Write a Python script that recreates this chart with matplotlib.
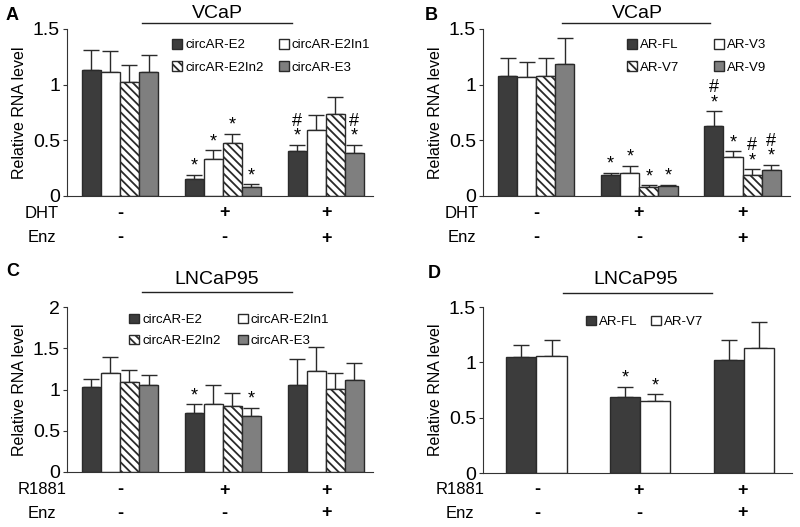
import numpy as np
import matplotlib
matplotlib.use('Agg')
import matplotlib.pyplot as plt

plt.rcParams['font.family'] = ['Liberation Sans', 'DejaVu Sans']
plt.rcParams['hatch.linewidth'] = 1.3

# ---- data ----
groups = [0, 1, 2]
circ_names = ['circAR-E2', 'circAR-E2In1', 'circAR-E2In2', 'circAR-E3']
ar4_names = ['AR-FL', 'AR-V3', 'AR-V7', 'AR-V9']
ar2_names = ['AR-FL', 'AR-V7']

# panel A (VCaP, circAR), rows = series, cols = groups
a_mean = [[1.13, 0.15, 0.40], [1.11, 0.33, 0.59], [1.02, 0.48, 0.74], [1.11, 0.085, 0.39]]
a_err = [[0.18, 0.04, 0.06], [0.19, 0.08, 0.14], [0.16, 0.08, 0.15], [0.16, 0.02, 0.07]]
a_marks = [['', '*', '#\n*'], ['', '*', ''], ['', '*', ''], ['', '*', '#\n*']]

# panel B (VCaP, AR variants)
b_mean = [[1.08, 0.19, 0.63], [1.07, 0.21, 0.35], [1.08, 0.085, 0.19], [1.19, 0.09, 0.23]]
b_err = [[0.16, 0.02, 0.13], [0.13, 0.06, 0.05], [0.16, 0.01, 0.05], [0.23, 0.01, 0.05]]
b_marks = [['', '*', '#\n*'], ['', '*', '*'], ['', '*', '#\n*'], ['', '*', '#\n*']]

# panel C (LNCaP95, circAR)
c_mean = [[1.03, 0.72, 1.06], [1.20, 0.83, 1.22], [1.09, 0.80, 1.01], [1.06, 0.68, 1.12]]
c_err = [[0.10, 0.10, 0.31], [0.20, 0.23, 0.30], [0.15, 0.16, 0.19], [0.12, 0.10, 0.20]]
c_marks = [['', '*', ''], ['', '', ''], ['', '', ''], ['', '*', '']]

# panel D (LNCaP95, AR-FL / AR-V7)
d_mean = [[1.05, 0.69, 1.02], [1.06, 0.65, 1.13]]
d_err = [[0.11, 0.09, 0.18], [0.14, 0.06, 0.23]]
d_marks = [['', '*', ''], ['', '*', '']]

treat1 = ['-', '+', '+']
treat2 = ['-', '-', '+']

# ---- styles ----
DARK = '#3c3c3c'
EDGE = '#2a2a2a'
styles4 = [dict(color=DARK, hatch=None), dict(color='white', hatch=None),
           dict(color='white', hatch='\\\\\\\\'), dict(color='#7f7f7f', hatch=None)]
styles2 = styles4[:2]

W, H = 800, 527
fig = plt.figure(figsize=(8, 5.27), dpi=100)


def px_axes(x0, x1, ytop, ybot):
    return fig.add_axes([x0 / W, 1 - ybot / H, (x1 - x0) / W, (ybot - ytop) / H])


def draw_panel(ax, means, errs, marks, names, styles, ymax, yticks, ylabels, gw):
    n = len(means)
    bw = gw / n
    x = np.array(groups, dtype=float)
    handles = []
    for i in range(n):
        xs = x - gw / 2 + bw * (i + 0.5)
        st = styles[i]
        b = ax.bar(xs, means[i], bw, color=st['color'], edgecolor=EDGE, linewidth=1.0,
                   hatch=st['hatch'], label=names[i], zorder=2)
        ax.errorbar(xs, means[i], yerr=[np.zeros(3), errs[i]], fmt='none', ecolor=EDGE,
                    elinewidth=1.0, capsize=6, capthick=1.0, zorder=1)
        handles.append(b)
        for j in range(3):
            if marks[i][j]:
                ax.annotate(marks[i][j], (xs[j], means[i][j] + errs[i][j]), xytext=(0, 0),
                            textcoords='offset points', ha='center', va='bottom',
                            fontsize=13, linespacing=0.85)
    ax.set_xlim(-0.515, 2.46)
    ax.set_ylim(0, ymax)
    ax.set_yticks(yticks)
    ax.set_yticklabels(ylabels)
    ax.set_xticks([])
    for s in ['top', 'right']:
        ax.spines[s].set_visible(False)
    for s in ['left', 'bottom']:
        ax.spines[s].set_color('#333333')
    ax.tick_params(axis='y', direction='out', length=3, labelsize=14, color='#333333', pad=2)
    ax.set_ylabel('Relative RNA level', fontsize=11.5, labelpad=4)
    return handles


def frame_text(treat_names, label_x, rows_y, group_px, title, title_x, line_x0, line_x1, title_y, line_y,
               letter, letter_x, letter_y):
    for (nm, vals), yy in zip(zip(treat_names, [treat1, treat2]), rows_y):
        fig.text(label_x / W, 1 - yy / H, nm, ha='center', va='center', fontsize=12)
        for gx, v in zip(group_px, vals):
            fig.text(gx / W, 1 - yy / H, v, ha='center', va='center', fontsize=13, fontweight='bold')
    fig.text(title_x / W, 1 - title_y / H, title, ha='center', va='center', fontsize=14)
    fig.add_artist(plt.Line2D([line_x0 / W, line_x1 / W], [1 - line_y / H, 1 - line_y / H],
                              color='#222222', lw=1.0))
    fig.text(letter_x / W, 1 - letter_y / H, letter, ha='left', va='center', fontsize=13, fontweight='bold')


leg_kw = dict(frameon=False, fontsize=9.5, handlelength=0.75, handleheight=0.75, handletextpad=0.25)

# A
axA = px_axes(67, 373, 29, 196)
hA = draw_panel(axA, a_mean, a_err, a_marks, circ_names, styles4, 1.5, [0, 0.5, 1, 1.5],
                ['0', '0.5', '1', '1.5'], 0.74)
axA.legend([hA[0], hA[2], hA[1], hA[3]], [circ_names[0], circ_names[2], circ_names[1], circ_names[3]],
           ncol=2, loc='upper left', bbox_to_anchor=(0.304, 1.012), columnspacing=1.15, labelspacing=0.75,
           **leg_kw)
frame_text(['DHT', 'Enz'], 42, [213, 238], [120, 224, 326], 'VCaP', 217, 142, 292, 14, 23, 'A', 6, 15)

# B
axB = px_axes(483, 790, 29, 196)
hB = draw_panel(axB, b_mean, b_err, b_marks, ar4_names, styles4, 1.5, [0, 0.5, 1, 1.5],
                ['0', '0.5', '1', '1.5'], 0.74)
axB.legend([hB[0], hB[2], hB[1], hB[3]], [ar4_names[0], ar4_names[2], ar4_names[1], ar4_names[3]],
           ncol=2, loc='upper left', bbox_to_anchor=(0.43, 1.012), columnspacing=2.6, labelspacing=0.75,
           **leg_kw)
frame_text(['DHT', 'Enz'], 462, [213, 238], [536, 639, 742], 'VCaP', 637, 562, 710, 14, 23, 'B', 425, 15)

# C
axC = px_axes(67, 373, 307, 472)
hC = draw_panel(axC, c_mean, c_err, c_marks, circ_names, styles4, 2, [0, 0.5, 1, 1.5, 2],
                ['0', '0.5', '1', '1.5', '2'], 0.74)
axC.legend([hC[0], hC[2], hC[1], hC[3]], [circ_names[0], circ_names[2], circ_names[1], circ_names[3]],
           ncol=2, loc='upper left', bbox_to_anchor=(0.164, 1.032), columnspacing=1.3, labelspacing=0.65,
           **leg_kw)
frame_text(['R1881', 'Enz'], 42, [490, 513], [120, 224, 326], 'LNCaP95', 217, 142, 292, 280, 292, 'C', 6, 272)

# D
axD = px_axes(483, 792, 307, 473)
hD = draw_panel(axD, d_mean, d_err, d_marks, ar2_names, styles2, 1.5, [0, 0.5, 1, 1.5],
                ['0', '0.5', '1', '1.5'], 0.58)
axD.legend(hD, ar2_names, ncol=2, loc='upper left', bbox_to_anchor=(0.294, 1.02), columnspacing=1.0,
           **leg_kw)
frame_text(['R1881', 'Enz'], 460, [490, 513], [537, 639, 742], 'LNCaP95', 636, 563, 712, 280, 293, 'D', 428, 273)

fig.savefig('out.png', dpi=100)
